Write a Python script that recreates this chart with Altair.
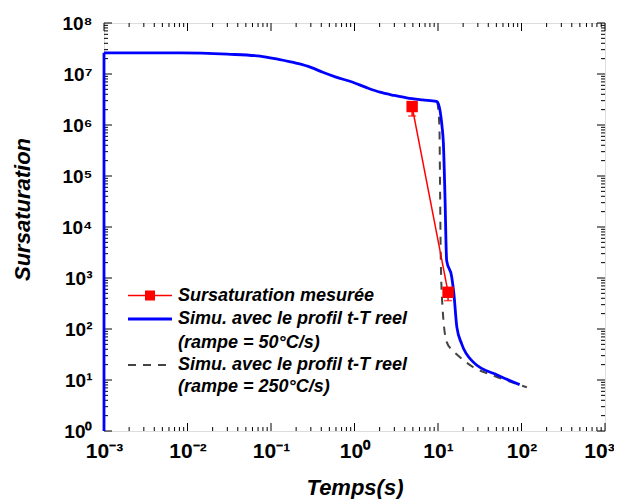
import altair as alt
import pandas as pd

# ---- data ----
edge_t = [0.001, 0.001]
edge_y = [1.0, 2.6e7]

blue_t = [0.001, 0.0081, 0.03, 0.074, 0.12, 0.204, 0.3, 0.417, 0.6, 0.955, 1.4, 2.02, 3.0, 4.22,
          6.5, 9.55, 9.8, 11.2, 11.6, 12.1, 12.7, 14.6, 15.5, 16.8, 19.2, 26.5, 52.7, 95.0]
blue_y = [2.6e7, 2.6e7, 2.45e7, 2.24e7, 1.95e7, 1.62e7, 1.35e7, 1.08e7, 8.7e6, 6.9e6, 5.4e6, 4.4e6,
          3.8e6, 3.4e6, 3.1e6, 2.9e6, 2.85e6, 9.1e5, 4.4e5, 4.5e4, 2190, 1050, 490, 110, 51, 22.4,
          12.3, 8.1]

dash_t = [9.8, 10.4, 10.6, 10.8, 11.4, 12.7, 14.5, 16.7, 26.5, 45.7, 116.0]
dash_y = [2.85e6, 9.1e5, 4.6e4, 2190, 229, 56, 40, 32, 17.8, 12.3, 7.2]

meas_t = [4.9, 13.2]
meas_y = [2.3e6, 525]
meas_low = [1.5e6, 360]

x_major = [1e-3, 1e-2, 1e-1, 1e0, 1e1, 1e2, 1e3]
y_major = [1e0, 1e1, 1e2, 1e3, 1e4, 1e5, 1e6, 1e7, 1e8]
x_minor = [m * 10.0 ** e for e in range(-3, 3) for m in range(2, 10)]
y_minor = [m * 10.0 ** e for e in range(0, 8) for m in range(2, 10)]

legend_labels = ["Sursaturation mesurée", "Simu. avec le profil t-T reel", "(rampe = 50°C/s)",
                 "Simu. avec le profil t-T reel", "(rampe = 250°C/s)"]

W, H = 501, 408
FONT = "Liberation Sans"

edge_df = pd.DataFrame({"t": edge_t, "y": edge_y})
blue_df = pd.DataFrame({"t": blue_t, "y": blue_y})
dash_df = pd.DataFrame({"t": dash_t, "y": dash_y})
meas_df = pd.DataFrame({"t": meas_t, "y": meas_y, "ylow": meas_low})
xmaj_df = pd.DataFrame({"t": x_major})
xmin_df = pd.DataFrame({"t": x_minor})
ymaj_df = pd.DataFrame({"y": y_major})
ymin_df = pd.DataFrame({"y": y_minor})

xscale = alt.Scale(type="log", domain=[1e-3, 1e3])
yscale = alt.Scale(type="log", domain=[1, 1e8])

xaxis = alt.Axis(
    values=x_major, grid=False, domain=False, ticks=False, tickSize=0,
    labelExpr="'10' + ['⁻³','⁻²','⁻¹','⁰','¹','²','³'][round(log(datum.value)/LN10)+3]",
    labelFont=FONT, labelFontSize=21, labelFontWeight="bold", labelColor="black",
    labelPadding=9, labelFlush=False, labelOverlap=False,
    labelOffset={"condition": {"test": "datum.value > 500", "value": -6}, "value": 0},
    title="Temps(s)", titleFont=FONT, titleFontSize=22, titleFontWeight="bold",
    titleFontStyle="italic", titleColor="black", titleX=W / 2, titleY=56,
    titleBaseline="middle", titleAlign="center",
)
yaxis = alt.Axis(
    values=y_major, grid=False, domain=False, ticks=False, tickSize=0,
    labelExpr="'10' + ['⁰','¹','²','³','⁴','⁵','⁶','⁷','⁸'][round(log(datum.value)/LN10)]",
    labelFont=FONT, labelFontSize=19, labelFontWeight="bold", labelColor="black",
    labelPadding=12, labelFlush=False, labelOverlap=False,
    title="Sursaturation", titleFont=FONT, titleFontSize=22, titleFontWeight="bold",
    titleFontStyle="italic", titleColor="black", titleX=-82, titleY=186,
    titleBaseline="middle", titleAlign="center", titleAngle=270,
)

X = alt.X("t:Q", scale=xscale, axis=xaxis)
Y = alt.Y("y:Q", scale=yscale, axis=yaxis)

dashed = alt.Chart(dash_df).mark_line(color="#444444", strokeWidth=2, strokeDash=[8, 7],
                                      interpolate="monotone").encode(x=X, y=Y, order="t:Q")
edge = alt.Chart(edge_df).mark_rule(color="#0000FF", strokeWidth=2.8).encode(
    x=X, y=alt.Y("min(y):Q", scale=yscale, axis=yaxis), y2="max(y):Q")
blue = alt.Chart(blue_df).mark_line(color="#0000FF", strokeWidth=2.8, interpolate="monotone").encode(
    x=X, y=Y, order="t:Q")
red_line = alt.Chart(meas_df).mark_line(color="#FF0000", strokeWidth=1.5).encode(x=X, y=Y)
red_err = alt.Chart(meas_df).mark_rule(color="#FF0000", strokeWidth=1.5).encode(
    x=X, y=Y, y2="ylow:Q")
red_cap = alt.Chart(meas_df).mark_tick(color="#FF0000", orient="horizontal", size=8, thickness=1.5).encode(
    x=X, y=alt.Y("ylow:Q", scale=yscale, axis=yaxis))
red_pts = alt.Chart(meas_df).mark_square(color="#FF0000", size=130, opacity=1).encode(x=X, y=Y)

# ---- inward ticks on all four sides ----
tick_layers = []
for df, L in [(xmaj_df, 8), (xmin_df, 4)]:
    tick_layers.append(alt.Chart(df).mark_rule(color="black", strokeWidth=1).encode(
        x=X, y=alt.value(H), y2=alt.value(H - L)))
    tick_layers.append(alt.Chart(df).mark_rule(color="black", strokeWidth=1).encode(
        x=X, y=alt.value(0), y2=alt.value(L)))
for df, L in [(ymaj_df, 8), (ymin_df, 4)]:
    tick_layers.append(alt.Chart(df).mark_rule(color="black", strokeWidth=1).encode(
        y=Y, x=alt.value(0), x2=alt.value(L)))
    tick_layers.append(alt.Chart(df).mark_rule(color="black", strokeWidth=1).encode(
        y=Y, x=alt.value(W), x2=alt.value(W - L)))

# ---- legend (drawn inside the plot) ----
one = alt.Data(values=[{"a": 1}])
row_y = [272.5, 296, 320, 342, 364]
leg = []
leg.append(alt.Chart(one).mark_rule(color="#FF0000", strokeWidth=1.5).encode(
    x=alt.value(24), x2=alt.value(68), y=alt.value(row_y[0])))
leg.append(alt.Chart(one).mark_square(color="#FF0000", size=100, opacity=1).encode(
    x=alt.value(46), y=alt.value(row_y[0])))
leg.append(alt.Chart(one).mark_rule(color="#0000FF", strokeWidth=2.8).encode(
    x=alt.value(24), x2=alt.value(68), y=alt.value(row_y[1])))
leg.append(alt.Chart(one).mark_rule(color="#444444", strokeWidth=2, strokeDash=[8, 7]).encode(
    x=alt.value(24), x2=alt.value(68), y=alt.value(row_y[3])))
for lab, yy in zip(legend_labels, row_y):
    leg.append(alt.Chart(one).mark_text(
        font=FONT, fontSize=18, fontWeight="bold", fontStyle="italic", color="black",
        align="left", baseline="middle").encode(
        x=alt.value(74), y=alt.value(yy), text=alt.value(lab)))

chart = alt.layer(
    *tick_layers, dashed, edge, blue, red_line, red_err, red_cap, red_pts, *leg
).properties(
    width=W, height=H,
    autosize=alt.AutoSizeParams(type="none"),
    padding={"left": 96, "top": 15, "right": 9, "bottom": 68},
).configure_view(
    stroke="black", strokeWidth=1.5
).configure(background="white")

chart.save("out.html", embed_options={"renderer": "svg", "actions": False})
